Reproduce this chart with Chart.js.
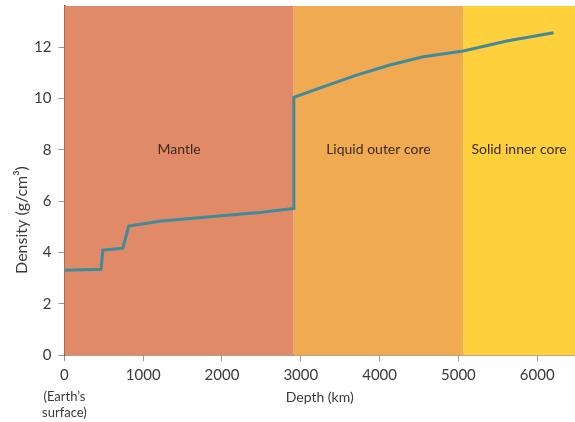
<!DOCTYPE html>
<html lang="en">
<head>
    <meta charset="UTF-8">
    <title>Density inside the Earth</title>
    <script src="https://cdn.jsdelivr.net/npm/chart.js"></script>
    <style>
        body { margin: 0; background: #fff; }
    </style>
</head>
<body>
    <canvas id="densityChart" width="575" height="422"></canvas>

    <script>
        // density profile
        const depthKm = [0, 466, 487, 741, 817, 1208, 1843, 2479, 2910, 2912, 3283, 3708, 4131, 4555, 5063, 5615, 6207];
        const density = [3.31, 3.35, 4.09, 4.17, 5.03, 5.22, 5.39, 5.56, 5.71, 10.04, 10.45, 10.91, 11.30, 11.62, 11.85, 12.24, 12.56];

        // layers of the Earth (km)
        const layerNames = ['Mantle', 'Liquid outer core', 'Solid inner core'];
        const layerStart = [0, 2910, 5060];
        const layerEnd = [2910, 5060, 6480];
        const layerColors = ['#e08a68', '#f0aa52', '#fdd03c'];
        const labelDensity = 8;

        const yTicks = [0, 2, 4, 6, 8, 10, 12];
        const xTicks = [0, 1000, 2000, 3000, 4000, 5000, 6000];

        const textColor = '#3a3a3a';
        const font = "'Lato', 'DejaVu Sans', sans-serif";

        const layersPlugin = {
            id: 'layers',
            beforeDatasetsDraw(chart) {
                const { ctx, chartArea, scales } = chart;
                const x = scales.x, y = scales.y;
                ctx.save();
                for (let i = 0; i < layerNames.length; i++) {
                    const left = x.getPixelForValue(layerStart[i]);
                    const right = x.getPixelForValue(layerEnd[i]);
                    ctx.fillStyle = layerColors[i];
                    ctx.fillRect(left, chartArea.top, right - left, chartArea.bottom - chartArea.top);
                }
                ctx.fillStyle = '#3b2a20';
                ctx.font = '14px ' + font;
                ctx.textAlign = 'center';
                ctx.textBaseline = 'middle';
                for (let i = 0; i < layerNames.length; i++) {
                    const mid = (x.getPixelForValue(layerStart[i]) + x.getPixelForValue(layerEnd[i])) / 2;
                    ctx.fillText(layerNames[i], mid, y.getPixelForValue(labelDensity));
                }
                ctx.restore();
            },
            afterDraw(chart) {
                const { ctx, scales } = chart;
                const x0 = scales.x.getPixelForValue(0);
                ctx.save();
                ctx.fillStyle = textColor;
                ctx.font = '13px ' + font;
                ctx.textAlign = 'center';
                ctx.textBaseline = 'middle';
                ctx.fillText('(Earth\u2019s', x0, 397);
                ctx.fillText('surface)', x0, 413);
                // y axis title, sits a little below the middle like the original
                ctx.translate(22, 220);
                ctx.rotate(-Math.PI / 2);
                ctx.font = '16px ' + font;
                ctx.fillText('Density (g/cm\u00b3)', 0, 0);
                ctx.restore();
            }
        };

        new Chart(document.getElementById('densityChart'), {
            type: 'scatter',
            data: {
                datasets: [{
                    label: 'Density',
                    data: depthKm.map((d, i) => ({ x: d, y: density[i] })),
                    showLine: true,
                    borderColor: '#428a9a',
                    borderWidth: 3,
                    pointRadius: 0,
                    tension: 0
                }]
            },
            options: {
                responsive: false,
                animation: false,
                layout: { padding: { top: 6, right: 0, bottom: 16, left: 27 } },
                plugins: {
                    legend: { display: false },
                    tooltip: { enabled: false }
                },
                scales: {
                    x: {
                        type: 'linear',
                        min: 0,
                        max: 6480,
                        afterBuildTicks: axis => { axis.ticks = xTicks.map(v => ({ value: v })); },
                        ticks: {
                            color: textColor,
                            font: { family: font, size: 15 },
                            padding: 5,
                            maxRotation: 0,
                            callback: v => String(v)
                        },
                        grid: {
                            drawOnChartArea: false,
                            drawTicks: true,
                            tickLength: 6,
                            color: '#9a9a9a'
                        },
                        border: { color: '#6b4030', width: 1.5 },
                        title: {
                            display: true,
                            text: 'Depth (km)',
                            color: textColor,
                            font: { family: font, size: 14 },
                            padding: { top: 0, bottom: 0 }
                        }
                    },
                    y: {
                        min: 0,
                        max: 13.6,
                        afterBuildTicks: axis => { axis.ticks = yTicks.map(v => ({ value: v })); },
                        // top tick is well below the edge, so no room is needed for its label
                        afterFit: axis => { axis.paddingTop = 0; },
                        ticks: {
                            color: textColor,
                            font: { family: font, size: 15 },
                            padding: 7,
                            callback: v => String(v)
                        },
                        grid: {
                            drawOnChartArea: false,
                            drawTicks: true,
                            tickLength: 6,
                            color: '#9a9a9a'
                        },
                        border: { color: '#6b4030', width: 1.5 }
                    }
                }
            },
            plugins: [layersPlugin]
        });
    </script>
</body>
</html>
